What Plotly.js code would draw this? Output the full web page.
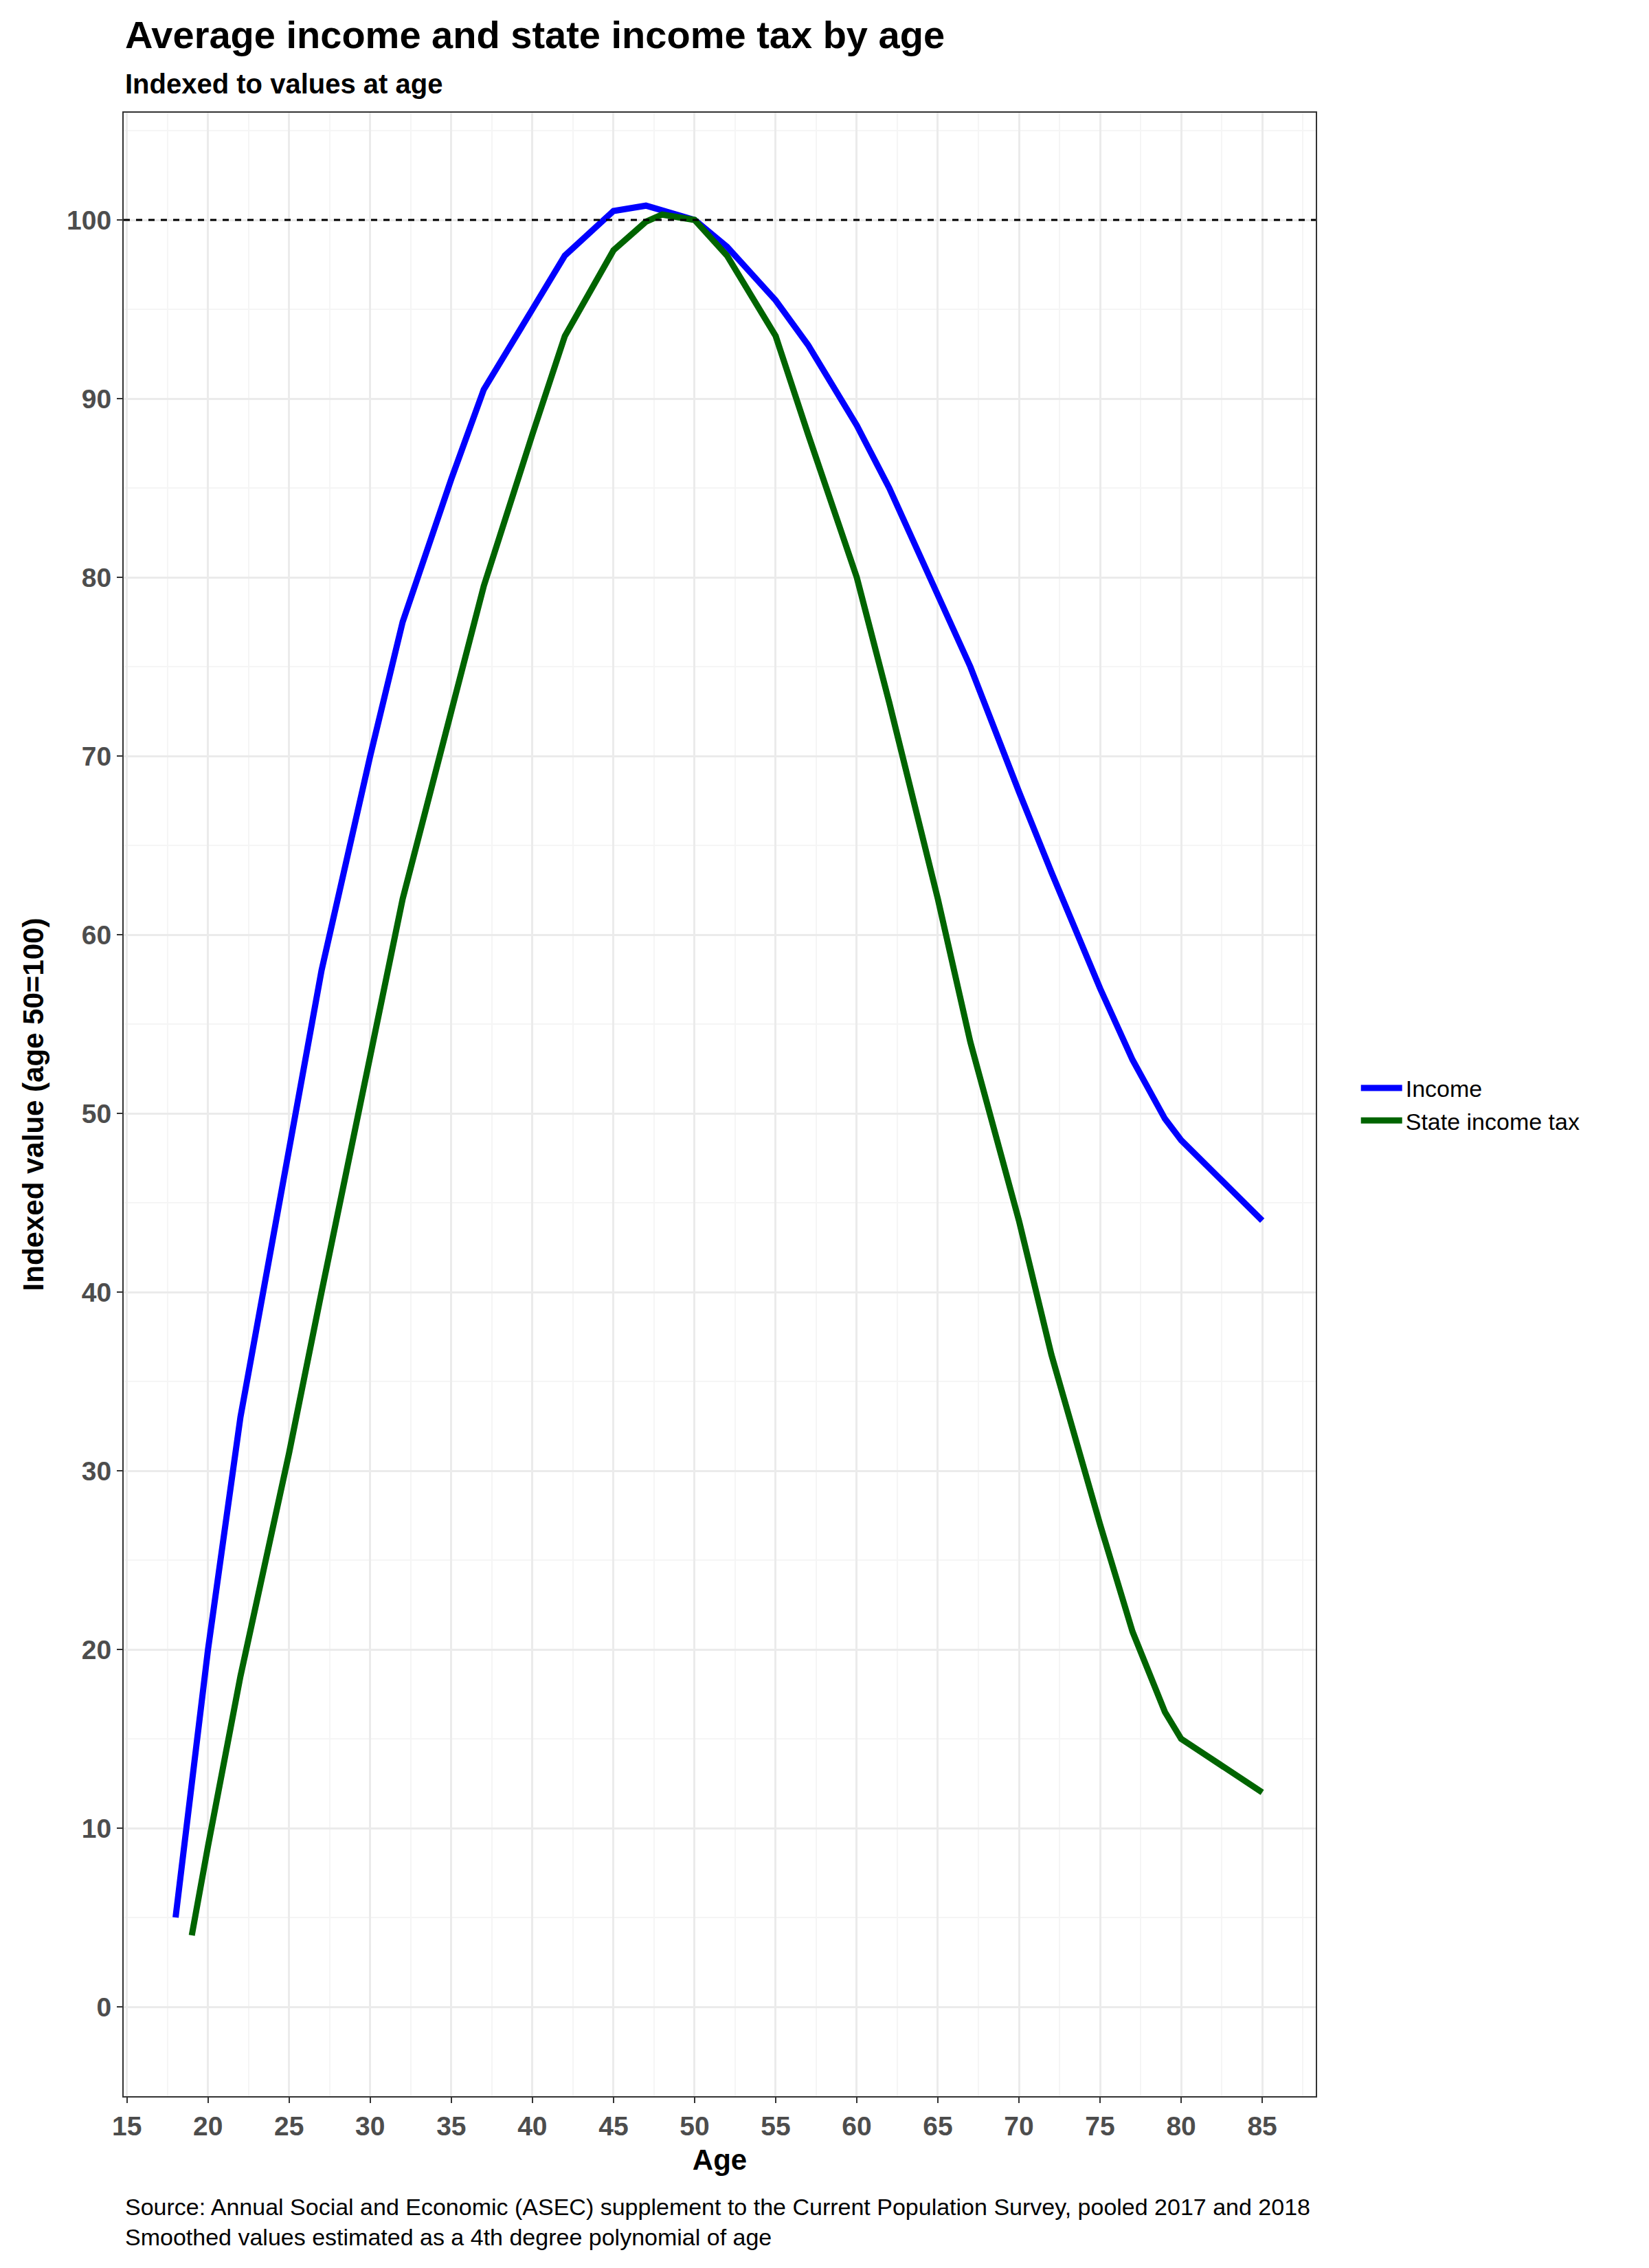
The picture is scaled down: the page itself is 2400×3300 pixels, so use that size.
<!DOCTYPE html>
<html>
<head>
<meta charset="utf-8">
<script src="https://cdn.plot.ly/plotly-3.0.1.min.js"></script>
<style>body{margin:0;background:#fff}#chart{width:2400px;height:3300px}</style>
</head>
<body>
<div id="chart"></div>
<script>
// Werte
const incomeAge = [18, 20, 22, 25, 27, 30, 32, 35, 37, 40, 42, 45, 47, 50, 52, 55, 57, 60, 62, 65, 67, 70, 72, 75, 77, 79, 80, 85];
const incomeVal = [5, 20, 33, 48, 58, 70, 77.5, 85.5, 90.5, 95, 98, 100.5, 100.8, 100, 98.5, 95.5, 93, 88.5, 85, 79, 75, 68, 63.5, 57, 53, 49.7, 48.5, 44];
const taxAge = [19, 20, 22, 25, 27, 30, 32, 35, 37, 40, 42, 45, 47, 48, 50, 52, 55, 57, 60, 62, 65, 67, 70, 72, 75, 77, 79, 80, 85];
const taxVal = [4, 9, 18.5, 31, 40, 53, 62, 72.5, 79.5, 88, 93.5, 98.3, 99.9, 100.3, 100, 98, 93.5, 88, 80, 73, 62, 54, 44, 36.5, 27, 21, 16.5, 15, 12];

const font = 'Arial, "Liberation Sans", sans-serif';

const traces = [
  { x: incomeAge, y: incomeVal, mode: 'lines', name: 'Income',
    line: { color: '#0000ff', width: 9 } },
  { x: taxAge, y: taxVal, mode: 'lines', name: 'State income tax',
    line: { color: '#006400', width: 9 } }
];

const axisStyle = {
  showline: true, mirror: true, linecolor: '#333', linewidth: 2,
  gridcolor: '#ebebeb', gridwidth: 2.5, zeroline: false,
  ticks: 'outside', ticklen: 8, tickwidth: 2, tickcolor: '#333',
  tickfont: { family: font, size: 39, color: '#4d4d4d', weight: 'bold' }
};

const layout = {
  width: 2400, height: 3300,
  paper_bgcolor: '#fff', plot_bgcolor: '#fff',
  margin: { l: 180, r: 485, t: 164, b: 250 },
  font: { family: font },
  showlegend: true,
  legend: { x: 1.035, y: 0.5, xanchor: 'left', yanchor: 'middle', itemwidth: 60,
    font: { family: font, size: 34, color: '#000' }, tracegroupgap: 30 },
  xaxis: Object.assign({}, axisStyle, {
    range: [14.8, 88.3], tickvals: [15,20,25,30,35,40,45,50,55,60,65,70,75,80,85],
    minor: { dtick: 2.5, tick0: 15, showgrid: true, gridcolor: '#f5f5f5', gridwidth: 1.5 },
    title: { text: 'Age', standoff: 14, font: { family: font, size: 42, weight: 'bold', color: '#000' } }
  }),
  yaxis: Object.assign({}, axisStyle, {
    range: [-5, 106], dtick: 10, tick0: 0,
    minor: { dtick: 5, tick0: 0, showgrid: true, gridcolor: '#f5f5f5', gridwidth: 1.5 },
    title: { text: 'Indexed value (age 50=100)', standoff: 20, font: { family: font, size: 42, weight: 'bold', color: '#000' } }
  }),
  shapes: [
    { type: 'line', xref: 'paper', x0: 0, x1: 1, yref: 'y', y0: 100, y1: 100,
      line: { color: '#000', width: 3, dash: 'dash' } }
  ],
  annotations: [
    { text: 'Average income and state income tax by age', xref: 'paper', yref: 'paper',
      x: 0, y: 1, xanchor: 'left', yanchor: 'bottom', yshift: 80, showarrow: false,
      font: { family: font, size: 56, weight: 'bold', color: '#000' } },
    { text: 'Indexed to values at age', xref: 'paper', yref: 'paper',
      x: 0, y: 1, xanchor: 'left', yanchor: 'bottom', yshift: 18, showarrow: false,
      font: { family: font, size: 40, weight: 'bold', color: '#000' } },
    { text: 'Source: Annual Social and Economic (ASEC) supplement to the Current Population Survey, pooled 2017 and 2018<br>Smoothed values estimated as a 4th degree polynomial of age',
      xref: 'paper', yref: 'paper', x: 0, y: 0, xanchor: 'left', yanchor: 'top', yshift: -140,
      align: 'left', showarrow: false, font: { family: font, size: 34, color: '#000' } }
  ]
};

Plotly.newPlot('chart', traces, layout, { displayModeBar: false });
</script>
</body>
</html>
